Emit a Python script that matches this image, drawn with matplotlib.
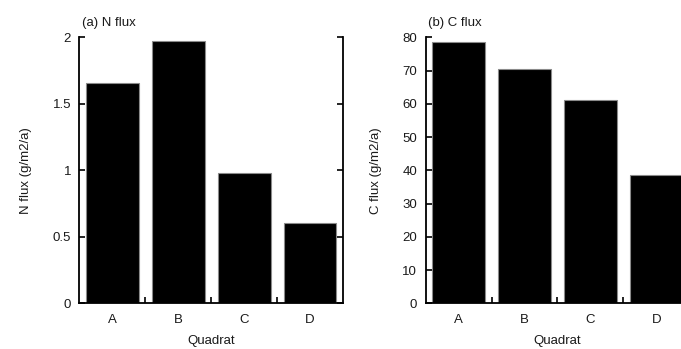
import matplotlib.pyplot as plt
from matplotlib.ticker import FixedLocator

plt.rcParams["font.family"] = ["Liberation Sans", "DejaVu Sans"]
plt.rcParams["font.size"] = 9.5

quadrats = ["A", "B", "C", "D"]
n_flux = [1.66, 1.97, 0.98, 0.60]
c_flux = [78.5, 70.4, 61.3, 38.6]

n_ticks = [0, 0.5, 1, 1.5, 2]
n_tick_labels = ["0", "0.5", "1", "1.5", "2"]
c_ticks = [0, 10, 20, 30, 40, 50, 60, 70, 80]

fig = plt.figure(figsize=(6.81, 3.49), dpi=100)
ax1 = fig.add_axes([0.1167, 0.131, 0.387, 0.762])
ax2 = fig.add_axes([0.625, 0.131, 0.387, 0.762])

text_color = "#1a1a1a"


def style_panel(ax, values, ymax, yticks, ylabels, ylabel, title):
    x = range(len(quadrats))
    ax.bar(x, values, width=0.8, color="black", edgecolor="#8a8a8a", linewidth=0.8)
    ax.set_xlim(-0.5, len(quadrats) - 0.5)
    ax.set_ylim(0, ymax)
    ax.set_xticks(list(x))
    ax.set_xticklabels(quadrats, color=text_color)
    ax.xaxis.set_minor_locator(FixedLocator([0.5, 1.5, 2.5]))
    ax.tick_params(axis="x", which="major", length=0, pad=8)
    ax.tick_params(axis="x", which="minor", direction="in", length=4, width=1.2, top=False)
    ax.set_yticks(yticks)
    ax.set_yticklabels(ylabels, color=text_color)
    ax.tick_params(axis="y", direction="in", length=4, width=1.2, pad=6, right=True)
    ax.spines["top"].set_visible(False)
    for side in ["left", "right", "bottom"]:
        ax.spines[side].set_linewidth(1.3)
    ax.set_xlabel("Quadrat", labelpad=6.5, color=text_color)
    ax.set_ylabel(ylabel, labelpad=15, color=text_color)
    ax.text(0.01, 1.032, title, transform=ax.transAxes, ha="left", va="bottom",
            color=text_color)


style_panel(ax1, n_flux, 2, n_ticks, n_tick_labels, "N flux (g/m2/a)", "(a) N flux")
style_panel(ax2, c_flux, 80, c_ticks, [str(t) for t in c_ticks], "C flux (g/m2/a)",
            "(b) C flux")

fig.savefig("out.png", dpi=100)
